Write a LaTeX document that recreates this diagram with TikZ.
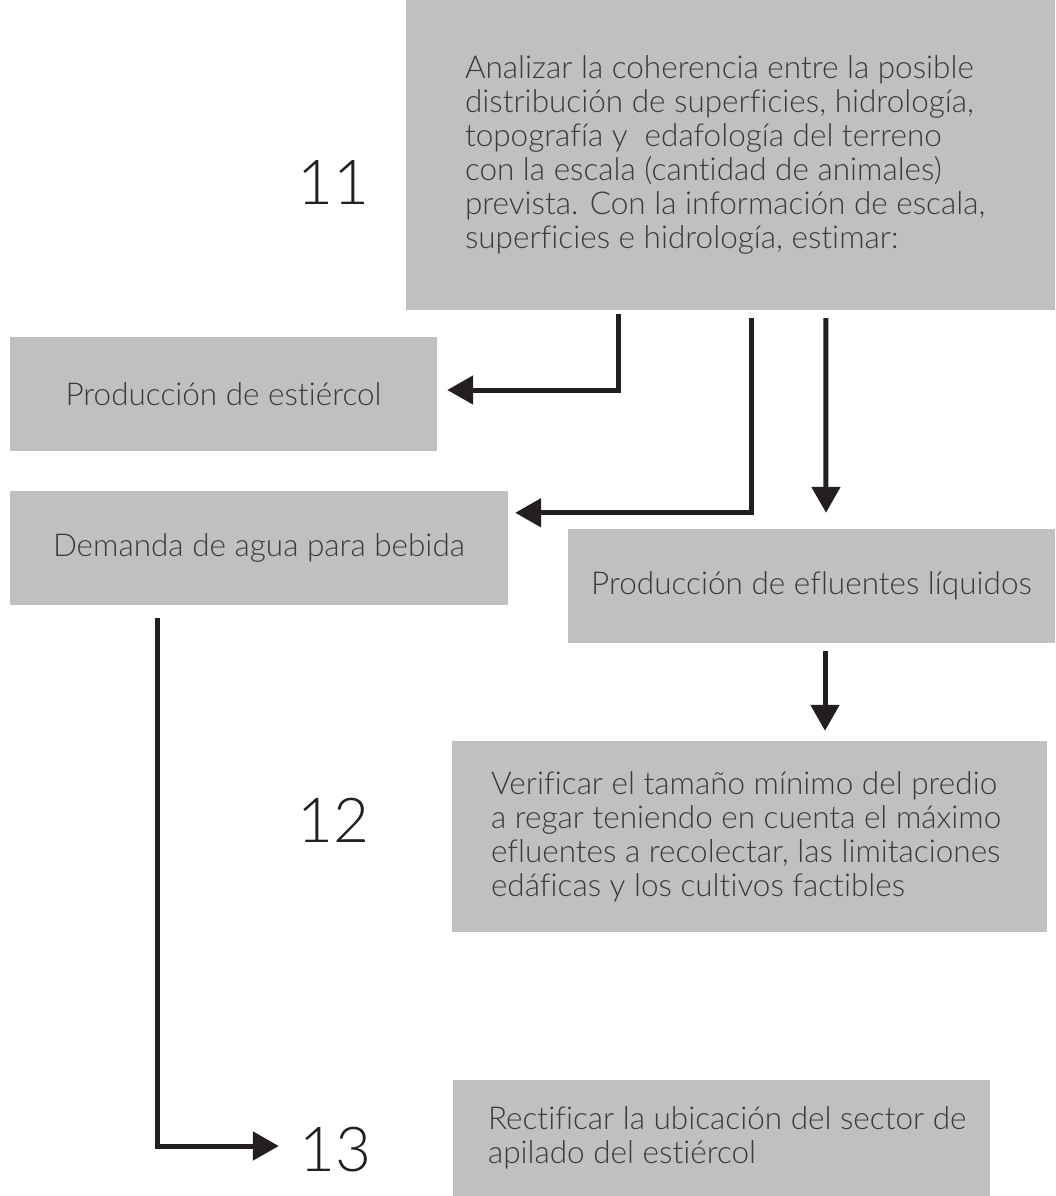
\documentclass[tikz,border=0pt]{standalone}
\usepackage{fontspec}
\setmainfont{Lato Light}[Ligatures={TeX,NoCommon}]
\usetikzlibrary{arrows.meta,positioning}
\definecolor{boxgray}{HTML}{C0C0C0}
\definecolor{ink}{HTML}{231F20}
\definecolor{txtgray}{HTML}{3A3A3A}
\begin{document}
\begin{tikzpicture}[x=1pt,y=-1pt,
    box/.style = {fill=boxgray, inner sep=0pt, text=txtgray, font=\fontsize{31.5}{34}\selectfont},
    txt/.style = {inner sep=0pt, align=left, text=txtgray, font=\fontsize{31.5}{34}\selectfont},
    num/.style = {inner sep=0pt, text=ink, font=\fontsize{62}{62}\selectfont},
    flow/.style = {draw=ink, line width=5pt, line join=miter, -{Triangle[length=26pt,width=28pt]}}]
      \useasboundingbox (0,0) rectangle (1055,1196);

      % boxes
      \node[box, minimum width=649pt, minimum height=310pt] (escala) at (730.5,155) {};
      \node[box, minimum width=427pt, minimum height=114pt] (estiercol) at (223.5,394) {Producción de estiércol};
      \node[box, minimum width=498pt, minimum height=114pt] (agua) at (259,548) {Demanda de agua para bebida};
      \node[box, minimum width=487pt, minimum height=114pt] (efluentes) at (811.5,586) {Producción de efluentes líquidos};
      \node[box, minimum width=595pt, minimum height=191pt] (predio) at (749.5,836.5) {};
      \node[box, minimum width=537pt, minimum height=116pt] (apilado) at (721.5,1138) {};

      % texts of the larger boxes
      \node[txt, anchor=west] (escalatxt) at ([xshift=59pt]escala.west) {Analizar la coherencia entre la posible\\
        distribución de superficies, hidrología,\\
        topografía y\ \ edafología del terreno\\
        con la escala (cantidad de animales)\\
        prevista. Con la información de escala,\\
        superficies e hidrología, estimar:};
      \node[txt, anchor=west] (prediotxt) at ([xshift=39pt]predio.west) {Verificar el tamaño mínimo del predio\\
        a regar teniendo en cuenta el máximo\\
        efluentes a recolectar, las limitaciones\\
        edáficas y los cultivos factibles};
      \node[txt, anchor=west] (apiladotxt) at ([xshift=35pt]apilado.west) {Rectificar la ubicación del sector de\\
        apilado del estiércol};

      % step numbers
      \node[num] (n11) at (333,182) {11};
      \node[num] (n12) at (333,820) {12};
      \node[num] (n13) at (335,1150) {13};

      % connectors
      \draw[flow] ([xshift=213pt,yshift=-4pt]escala.south west) |- ([xshift=10pt,yshift=4pt]estiercol.east);
      \draw[flow] ([xshift=346pt,yshift=-8pt]escala.south west) |- ([xshift=7pt,yshift=-22pt]agua.north east);
      \draw[flow] ([xshift=420pt,yshift=-8pt]escala.south west) -- ([xshift=14.5pt,yshift=16pt]efluentes.north);
      \draw[flow] ([xshift=13.5pt,yshift=-8pt]efluentes.south) -- ([xshift=75.5pt,yshift=10pt]predio.north);
      \draw[flow] ([xshift=148pt,yshift=-13pt]agua.south west) |- ([xshift=-20pt,yshift=4pt]n13.west);

    \end{tikzpicture}
\end{document}
